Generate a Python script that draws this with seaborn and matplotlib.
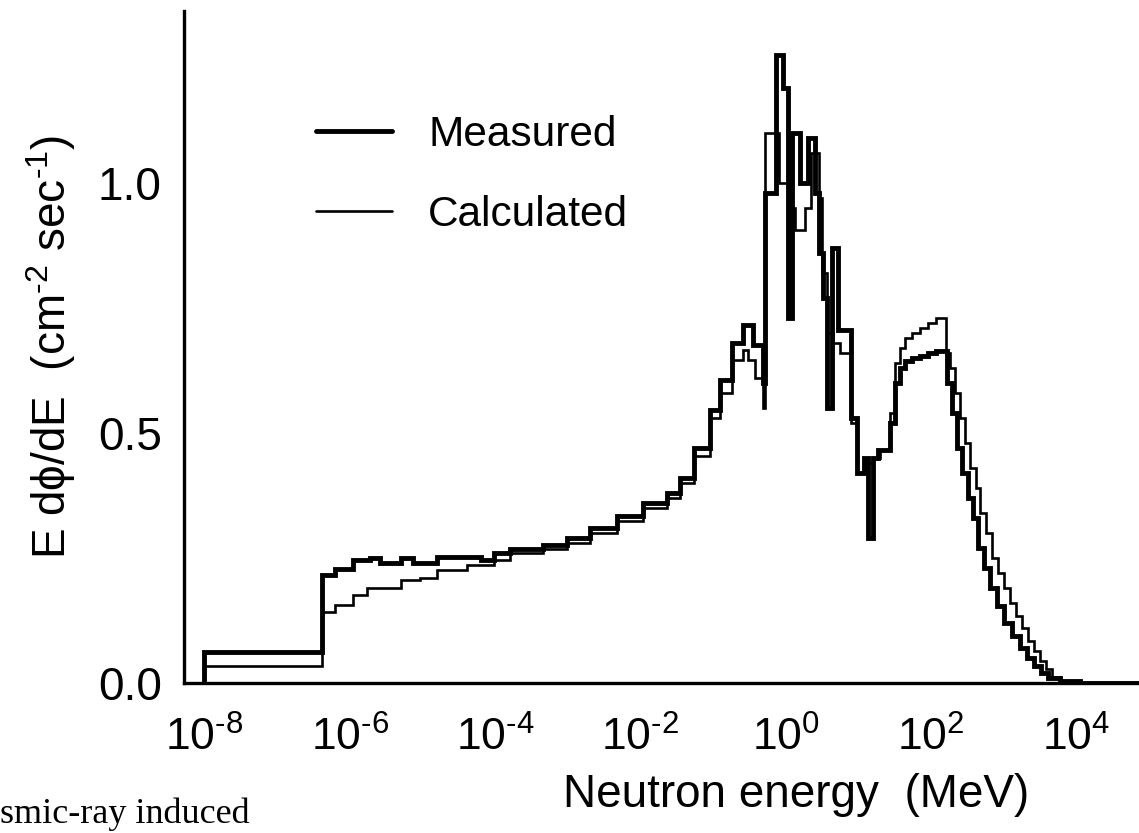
import numpy as np
import pandas as pd
import matplotlib
matplotlib.use("Agg")
import matplotlib.pyplot as plt
import matplotlib.ticker as mticker
from matplotlib.lines import Line2D
import seaborn as sns

# ---- data (log10 of energy bin edges in MeV, step values) ----
measured_log_edges = [-8.00, -6.38, -6.20, -5.96, -5.72, -5.58, -5.30, -5.13, -4.80, -4.20,
                      -4.02, -3.79, -3.34, -3.01, -2.69, -2.32, -1.96, -1.63, -1.45, -1.27,
                      -1.04, -0.90, -0.74, -0.59, -0.45, -0.32, -0.28, -0.13, -0.04, 0.03,
                      0.09, 0.20, 0.31, 0.40, 0.46, 0.51, 0.57, 0.64, 0.72, 0.89,
                      0.98, 1.08, 1.13, 1.20, 1.27, 1.44, 1.50, 1.57, 1.64, 1.74,
                      1.85, 1.96, 2.06, 2.22, 2.29, 2.36, 2.43, 2.50, 2.58, 2.65,
                      2.73, 2.81, 2.91, 3.00, 3.11, 3.22, 3.32, 3.42, 3.51, 3.61,
                      3.77, 4.05, 5.00]
measured_values = [0.063, 0.216, 0.229, 0.246, 0.250, 0.240, 0.250, 0.240, 0.253, 0.246,
                   0.260, 0.268, 0.276, 0.290, 0.310, 0.335, 0.360, 0.380, 0.410, 0.470,
                   0.546, 0.606, 0.680, 0.716, 0.676, 0.600, 0.980, 1.256, 1.190, 0.730,
                   1.100, 1.000, 1.090, 0.980, 0.860, 0.770, 0.550, 0.870, 0.706, 0.530,
                   0.420, 0.450, 0.290, 0.450, 0.466, 0.520, 0.600, 0.630, 0.645, 0.650,
                   0.655, 0.660, 0.665, 0.600, 0.540, 0.470, 0.420, 0.370, 0.330, 0.270,
                   0.230, 0.190, 0.155, 0.120, 0.095, 0.070, 0.050, 0.035, 0.020, 0.010,
                   0.004, 0.000]

calculated_log_edges = [-8.00, -6.38, -6.20, -5.95, -5.76, -5.30, -5.03, -4.80, -4.38, -4.02,
                        -3.79, -3.34, -3.01, -2.69, -2.32, -1.96, -1.63, -1.45, -1.27, -1.04,
                        -0.90, -0.74, -0.59, -0.52, -0.42, -0.32, -0.28, -0.10, 0.06, 0.13,
                        0.27, 0.34, 0.45, 0.50, 0.57, 0.65, 0.75, 0.89, 0.98, 1.08,
                        1.20, 1.30, 1.44, 1.50, 1.57, 1.64, 1.74, 1.85, 1.96, 2.06,
                        2.21, 2.26, 2.33, 2.40, 2.47, 2.54, 2.61, 2.67, 2.76, 2.84,
                        2.92, 3.00, 3.09, 3.17, 3.25, 3.33, 3.42, 3.50, 3.58, 3.66,
                        3.77, 4.05, 5.00]
calculated_values = [0.035, 0.143, 0.156, 0.176, 0.190, 0.206, 0.210, 0.226, 0.236, 0.246,
                     0.260, 0.268, 0.280, 0.300, 0.325, 0.350, 0.370, 0.400, 0.455, 0.530,
                     0.580, 0.646, 0.666, 0.646, 0.610, 0.550, 1.100, 1.000, 0.950, 0.906,
                     0.950, 1.060, 0.970, 0.820, 0.700, 0.680, 0.660, 0.520, 0.420, 0.440,
                     0.450, 0.466, 0.540, 0.640, 0.670, 0.690, 0.700, 0.710, 0.720, 0.730,
                     0.660, 0.630, 0.580, 0.530, 0.480, 0.430, 0.390, 0.340, 0.300, 0.250,
                     0.220, 0.190, 0.160, 0.135, 0.110, 0.085, 0.065, 0.045, 0.028, 0.012,
                     0.004, 0.000]

series_labels = ["Measured", "Calculated"]
x_label = "Neutron energy  (MeV)"
y_label = "E d\u03d5/dE  (cm$^{\\mathregular{\u20102}}$ sec$^{\\mathregular{\u20101}}$)"
footer_text = "smic-ray induced"
labelled_exponents = [-8, -6, -4, -2, 0, 2, 4]


def step_frame(log_edges, values, name):
    edges = 10.0 ** np.asarray(log_edges)
    xs = np.concatenate([[edges[0]], edges])
    ys = np.concatenate([[0.0], values, [values[-1]]])
    return pd.DataFrame({"E": xs, "flux": ys, "series": name})


df_meas = step_frame(measured_log_edges, measured_values, series_labels[0])
df_calc = step_frame(calculated_log_edges, calculated_values, series_labels[1])

sns.set_style("white")
plt.rcParams["font.family"] = ["Liberation Sans", "DejaVu Sans"]
plt.rcParams["mathtext.fontset"] = "custom"
plt.rcParams["mathtext.rm"] = "Liberation Sans"
plt.rcParams["mathtext.it"] = "Liberation Sans:italic"
plt.rcParams["mathtext.bf"] = "Liberation Sans:bold"
for key in ["text.color", "axes.labelcolor", "xtick.color", "ytick.color", "axes.edgecolor"]:
    plt.rcParams[key] = "black"

W, H = 1139, 828 + 5
fig = plt.figure(figsize=(11.39, 8.33), dpi=100)
# axes spans beyond the right edge (the source figure is cropped there)
ax_left, ax_right, ax_bottom, ax_top = 184, 1408, 683, 11
ax = fig.add_axes([ax_left / 1139, 1 - ax_bottom / 833,
                   (ax_right - ax_left) / 1139, (ax_bottom - ax_top) / 833])

sns.lineplot(data=df_meas, x="E", y="flux", ax=ax, color="black", linewidth=3.5,
             estimator=None, sort=False, drawstyle="steps-post", legend=False,
             solid_joinstyle="miter")
sns.lineplot(data=df_calc, x="E", y="flux", ax=ax, color="black", linewidth=1.9,
             estimator=None, sort=False, drawstyle="steps-post", legend=False,
             solid_joinstyle="miter")

ax.set_xscale("log")
ax.set_xlim(10 ** -8.28, 10 ** 8.56)
ax.set_ylim(0, 1.344)

ax.xaxis.set_major_locator(mticker.LogLocator(base=10, numticks=40))
ax.xaxis.set_minor_locator(mticker.LogLocator(base=10, subs=[2.0, 5.0], numticks=40))


def xfmt(v, pos):
    e = int(round(np.log10(v)))
    if e in labelled_exponents:
        s = ("\u2010%d" % (-e)) if e < 0 else "%d" % e
        return "10$^{\\mathregular{%s}}$" % s
    return ""


ax.xaxis.set_major_formatter(mticker.FuncFormatter(xfmt))
ax.xaxis.set_minor_formatter(mticker.NullFormatter())
ax.yaxis.set_major_locator(mticker.MultipleLocator(0.5))
ax.yaxis.set_minor_locator(mticker.MultipleLocator(0.1))
ax.yaxis.set_major_formatter(mticker.FormatStrFormatter("%.1f"))

ax.tick_params(axis="x", which="major", direction="out", length=9, width=2.2,
               labelsize=32, pad=15)
ax.tick_params(axis="x", which="minor", direction="out", length=5, width=1.6)
ax.tick_params(axis="y", which="major", direction="in", length=7, width=2.0,
               labelsize=33, pad=16)
ax.tick_params(axis="y", which="minor", direction="in", length=7, width=2.0)

for side in ["top", "right"]:
    ax.spines[side].set_visible(False)
for side in ["left", "bottom"]:
    ax.spines[side].set_linewidth(2.4)

ax.set_xlabel(x_label, fontsize=33, labelpad=10)
ax.set_ylabel(y_label, fontsize=33, labelpad=14)
ax.grid(False)

handles = [Line2D([], [], color="black", lw=3.5), Line2D([], [], color="black", lw=1.9)]
ax.legend(handles, series_labels, loc="upper left",
          bbox_to_anchor=(316 / 1139, 1 - 115 / 833), bbox_transform=fig.transFigure,
          frameon=False, fontsize=30.5, handlelength=1.8, handletextpad=0.85,
          labelspacing=0.95, borderpad=0, borderaxespad=0)

fig.text(0.0, 1 - 823 / 833, footer_text, fontsize=26, family="Liberation Serif",
         ha="left", va="baseline")

fig.savefig("out.png", dpi=100)
